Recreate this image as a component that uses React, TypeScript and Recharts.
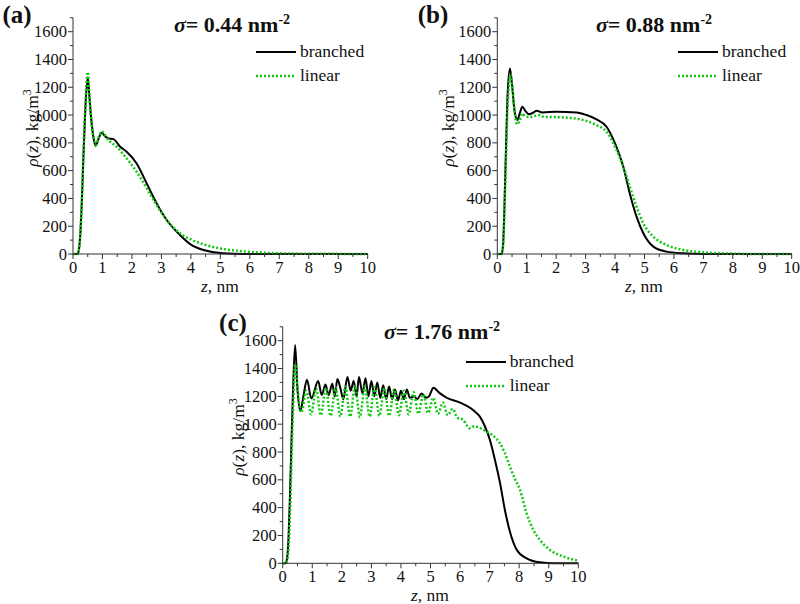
import React from "react";
import { LineChart, Line, XAxis, YAxis, Legend } from "recharts";

// z in nm, rho in kg/m^3
const zBranchedA = [0, 0.15, 0.2, 0.25, 0.3, 0.35, 0.42, 0.5, 0.55, 0.61, 0.7, 0.77, 0.87, 0.97, 1.1, 1.2, 1.37, 1.6, 1.82, 2.16, 2.5, 2.84, 3.18, 3.63, 4.0, 4.5, 5.0, 5.5, 6.0, 7.0, 10];
const rhoBranchedA = [0, 0, 30, 150, 380, 680, 1050, 1270, 1150, 990, 830, 778, 830, 873, 845, 832, 827, 772, 736, 652, 508, 364, 245, 137, 68, 25, 7, 2, 0, 0, 0];
const zLinearA = [0, 0.15, 0.2, 0.25, 0.3, 0.35, 0.42, 0.5, 0.55, 0.61, 0.7, 0.77, 0.87, 0.97, 1.2, 1.48, 1.82, 2.16, 2.5, 2.84, 3.18, 3.63, 4.0, 4.5, 5.0, 5.5, 6.0, 6.5, 7.0, 8.0, 9.0, 10];
const rhoLinearA = [0, 0, 30, 150, 380, 700, 1080, 1310, 1170, 990, 840, 784, 840, 880, 820, 772, 688, 592, 472, 352, 245, 149, 105, 65, 40, 25, 15, 9, 5, 2, 1, 0];

const zBranchedB = [0, 0.15, 0.2, 0.25, 0.3, 0.35, 0.43, 0.5, 0.58, 0.68, 0.76, 0.85, 0.95, 1.08, 1.2, 1.34, 1.53, 2.0, 2.7, 3.03, 3.37, 3.71, 4.0, 4.28, 4.5, 4.73, 4.96, 5.3, 5.75, 6.3, 7.0, 10];
const rhoBranchedB = [0, 0, 80, 400, 800, 1150, 1335, 1220, 1040, 965, 1010, 1060, 1030, 1005, 1015, 1031, 1019, 1024, 1019, 1000, 969, 916, 796, 628, 436, 269, 149, 53, 17, 5, 0, 0];
const zLinearB = [0, 0.15, 0.2, 0.25, 0.3, 0.35, 0.45, 0.52, 0.6, 0.68, 0.76, 0.85, 0.94, 1.1, 1.3, 1.45, 1.56, 2.24, 2.92, 3.37, 3.71, 4.05, 4.28, 4.5, 4.73, 4.96, 5.3, 5.75, 6.32, 7.0, 7.68, 8.8, 10];
const rhoLinearB = [0, 0, 70, 350, 720, 1050, 1290, 1180, 1000, 933, 960, 1012, 993, 985, 995, 1000, 988, 983, 964, 928, 880, 748, 628, 484, 340, 220, 125, 65, 29, 12, 5, 0, 0];

const zBranchedC = [0, 0.1, 0.15, 0.2, 0.25, 0.3, 0.35, 0.42, 0.5, 0.6, 0.7, 0.82, 0.97, 1.2, 1.32, 1.45, 1.55, 1.68, 1.76, 1.85, 1.95, 2.05, 2.19, 2.3, 2.4, 2.5, 2.58, 2.7, 2.8, 2.9, 3.0, 3.1, 3.2, 3.3, 3.4, 3.5, 3.6, 3.7, 3.8, 3.9, 4.0, 4.1, 4.2, 4.3, 4.45, 4.55, 4.7, 4.85, 4.95, 5.1, 5.3, 5.55, 6.0, 6.45, 6.67, 6.84, 7.01, 7.18, 7.35, 7.52, 7.69, 7.91, 8.25, 8.7, 9.15, 10];
const rhoBranchedC = [0, 0, 40, 200, 520, 900, 1250, 1570, 1250, 1095, 1200, 1320, 1185, 1310, 1210, 1285, 1210, 1290, 1200, 1325, 1260, 1180, 1340, 1240, 1310, 1200, 1340, 1220, 1330, 1200, 1310, 1200, 1300, 1190, 1280, 1180, 1270, 1180, 1250, 1170, 1240, 1180, 1250, 1190, 1200, 1180, 1220, 1190, 1200, 1262, 1225, 1190, 1155, 1100, 1054, 985, 886, 743, 580, 380, 225, 100, 36, 7, 0, 0];
const zLinearC = [0, 0.1, 0.15, 0.2, 0.25, 0.3, 0.35, 0.42, 0.5, 0.63, 0.8, 0.96, 1.13, 1.29, 1.46, 1.62, 1.79, 1.95, 2.12, 2.28, 2.45, 2.61, 2.78, 2.94, 3.11, 3.27, 3.44, 3.6, 3.77, 3.93, 4.1, 4.26, 4.43, 4.59, 4.76, 4.92, 5.09, 5.25, 5.42, 5.58, 5.75, 5.9, 6.11, 6.25, 6.34, 6.48, 6.62, 6.9, 7.1, 7.35, 7.5, 7.69, 7.85, 8.03, 8.25, 8.48, 8.7, 9.04, 9.5, 10];
const rhoLinearC = [0, 0, 20, 120, 380, 750, 1100, 1430, 1260, 1085, 1240, 1070, 1255, 1065, 1260, 1060, 1265, 1055, 1270, 1055, 1275, 1050, 1270, 1055, 1265, 1060, 1260, 1060, 1250, 1065, 1240, 1070, 1230, 1075, 1215, 1080, 1190, 1075, 1155, 1065, 1110, 1050, 1030, 985, 970, 985, 977, 946, 920, 862, 800, 694, 610, 527, 359, 240, 168, 96, 48, 19];

const xTicks = [0, 0.5, 1, 1.5, 2, 2.5, 3, 3.5, 4, 4.5, 5, 5.5, 6, 6.5, 7, 7.5, 8, 8.5, 9, 9.5, 10];
const yTicks = [0, 100, 200, 300, 400, 500, 600, 700, 800, 900, 1000, 1100, 1200, 1300, 1400, 1500, 1600, 1700];

const FONT = '"Times New Roman", Times, "Liberation Serif", "Noto Serif", "DejaVu Serif", serif';
const GREEN = "#10c810";

const toPoints = (z: number[], rho: number[]) => z.map((v, i) => ({ z: v, rho: rho[i] }));

const XTick = (props: any) => {
  const { x, y, payload } = props;
  const v = payload.value;
  const major = Number.isInteger(v);
  return (
    <g>
      <line x1={x} x2={x} y1={y} y2={y + (major ? 5 : 3)} stroke="#333" />
      {major && (
        <text x={x} y={y + 18.5} textAnchor="middle" fontSize={16.5} style={{ fontFamily: FONT }} fill="#111">
          {v}
        </text>
      )}
    </g>
  );
};

const YTick = (props: any) => {
  const { x, y, payload } = props;
  const v = payload.value;
  const major = v % 200 === 0 && v <= 1600;
  return (
    <g>
      <line x1={x} x2={x - (major ? 5 : 3)} y1={y} y2={y} stroke="#333" />
      {major && (
        <text x={x - 6} y={y + 5.5} textAnchor="end" fontSize={16.5} style={{ fontFamily: FONT }} fill="#111">
          {v}
        </text>
      )}
    </g>
  );
};

const LegendBox = (props: any) => {
  const { payload = [] } = props;
  return (
    <div style={{ fontFamily: FONT, fontSize: 17.5, color: "#111", lineHeight: 1 }}>
      {payload.map((e: any) => (
        <div key={e.value} style={{ display: "flex", alignItems: "center", height: 24 }}>
          <svg width={40} height={6} style={{ marginRight: 4 }}>
            <line
              x1={0}
              x2={40}
              y1={3}
              y2={3}
              stroke={e.color}
              strokeWidth={e.value === "linear" ? 2.5 : 2}
              strokeDasharray={e.value === "linear" ? "2 2" : undefined}
            />
          </svg>
          <span>{e.value}</span>
        </div>
      ))}
    </div>
  );
};

type PanelProps = {
  left: number;
  top: number;
  width: number;
  height: number;
  margin: { top: number; right: number; bottom: number; left: number };
  branched: { z: number; rho: number }[];
  linear: { z: number; rho: number }[];
  legendLeft: number;
  legendTop: number;
};

function Panel({ left, top, width, height, margin, branched, linear, legendLeft, legendTop }: PanelProps) {
  return (
    <div style={{ position: "absolute", left, top }}>
      <LineChart width={width} height={height} margin={margin}>
        <XAxis
          type="number"
          dataKey="z"
          domain={[0, 10]}
          ticks={xTicks}
          interval={0}
          height={30}
          tickSize={0}
          tickMargin={0}
          tickLine={false}
          tick={<XTick />}
          axisLine={{ stroke: "#333" }}
        />
        <YAxis
          type="number"
          domain={[0, 1700]}
          ticks={yTicks}
          interval={0}
          width={40}
          tickSize={0}
          tickMargin={0}
          tickLine={false}
          tick={<YTick />}
          axisLine={{ stroke: "#333" }}
        />
        <Legend
          layout="vertical"
          align="center"
          verticalAlign="middle"
          content={<LegendBox />}
          wrapperStyle={{ left: legendLeft, top: legendTop, width: "auto" }}
        />
        <Line data={branched} dataKey="rho" name="branched" type="monotone" stroke="#000" strokeWidth={2} dot={false} isAnimationActive={false} />
        <Line data={linear} dataKey="rho" name="linear" type="monotone" stroke={GREEN} strokeWidth={2.5} strokeDasharray="2 2" dot={false} isAnimationActive={false} />
      </LineChart>
    </div>
  );
}

const abs = (l: number, t: number): React.CSSProperties => ({
  position: "absolute",
  left: l,
  top: t,
  transform: "translate(-50%, -50%)",
  whiteSpace: "nowrap",
  fontFamily: FONT,
  color: "#111",
  lineHeight: 1,
});

const Title = ({ x, y, value }: { x: number; y: number; value: string }) => (
  <div style={{ ...abs(x, y), fontSize: 22, fontWeight: "bold" }}>
    <i>σ</i>= {value} nm<span style={{ fontSize: 14, position: "relative", top: -8 }}>-2</span>
  </div>
);

const Letter = ({ x, y, value }: { x: number; y: number; value: string }) => (
  <div style={{ ...abs(x, y), fontSize: 25, fontWeight: "bold" }}>({value})</div>
);

const XLabel = ({ x, y }: { x: number; y: number }) => (
  <div style={{ ...abs(x, y), fontSize: 17.5 }}>
    <i>z</i>, nm
  </div>
);

const YLabel = ({ x, y }: { x: number; y: number }) => (
  <div style={{ ...abs(x, y), fontSize: 17.5, transform: "translate(-50%, -50%) rotate(-90deg)" }}>
    <i>ρ</i>(<i>z</i>), kg/m<span style={{ fontSize: 12, position: "relative", top: -7 }}>3</span>
  </div>
);

export default function App() {
  return (
    <div style={{ position: "absolute", left: 0, top: 0, width: 800, height: 604, background: "#fff", overflow: "hidden" }}>
      <Panel
        left={0}
        top={0}
        width={400}
        height={300}
        margin={{ top: 17.8, right: 32.3, bottom: 16, left: 33 }}
        branched={toPoints(zBranchedA, rhoBranchedA)}
        linear={toPoints(zLinearA, rhoLinearA)}
        legendLeft={256}
        legendTop={40}
      />
      <Panel
        left={400}
        top={0}
        width={400}
        height={300}
        margin={{ top: 17.8, right: 8.3, bottom: 16, left: 57.3 }}
        branched={toPoints(zBranchedB, rhoBranchedB)}
        linear={toPoints(zLinearB, rhoLinearB)}
        legendLeft={278}
        legendTop={40}
      />
      <Panel
        left={180}
        top={300}
        width={440}
        height={304}
        margin={{ top: 26.8, right: 41.7, bottom: 10.7, left: 62.7 }}
        branched={toPoints(zBranchedC, rhoBranchedC)}
        linear={toPoints(zLinearC, rhoLinearC)}
        legendLeft={285.7}
        legendTop={50}
      />

      <Letter x={17} y={14} value="a" />
      <Letter x={433} y={14} value="b" />
      <Letter x={233} y={322} value="c" />

      <Title x={232} y={25} value="0.44" />
      <Title x={654} y={25} value="0.88" />
      <Title x={442} y={332} value="1.76" />

      <XLabel x={220} y={287} />
      <XLabel x={644} y={287} />
      <XLabel x={430} y={596} />

      <YLabel x={33} y={128} />
      <YLabel x={449} y={128} />
      <YLabel x={239} y={437} />
    </div>
  );
}
